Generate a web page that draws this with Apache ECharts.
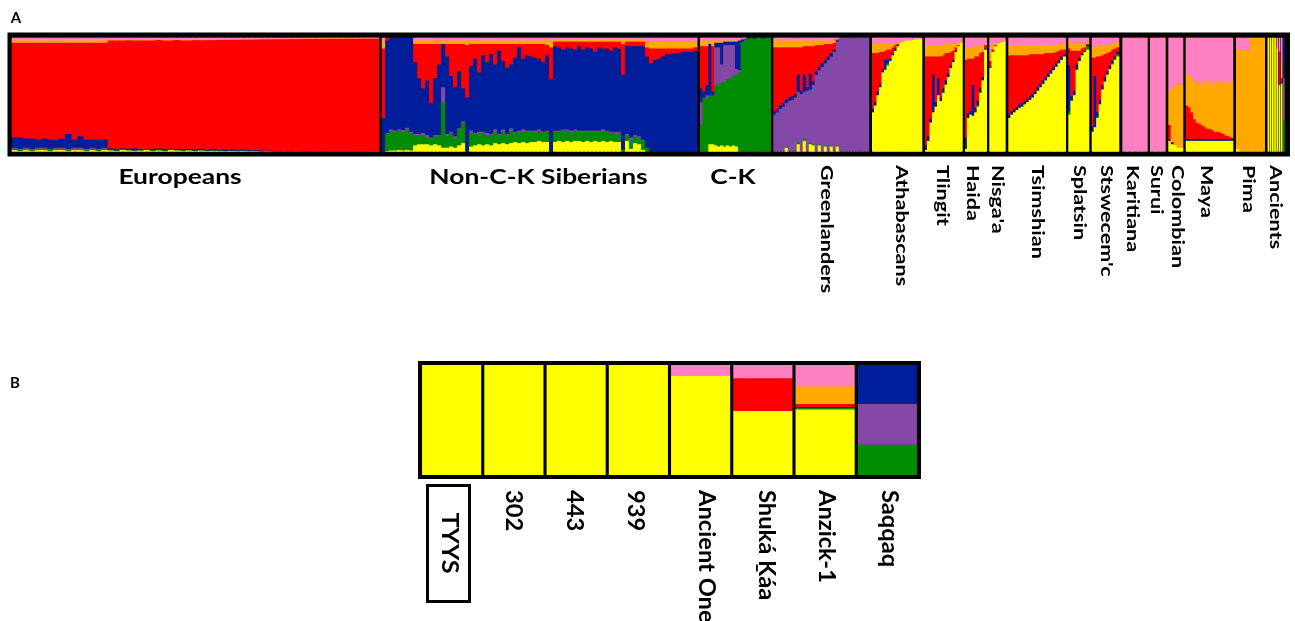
<!DOCTYPE html>
<html>
<head>
<meta charset="utf-8">
<script src="https://cdn.jsdelivr.net/npm/echarts@6/dist/echarts.min.js"></script>
<style>
  html, body { margin: 0; padding: 0; background: #fff; }
  #chart { width: 1295px; height: 621px; }
</style>
</head>
<body>
<div id="chart"></div>
<script>
// Ancestry components, stacked bottom to top in this order
const components = ['yellow', 'green', 'purple', 'blue', 'red', 'orange', 'pink'];
const componentColors = ['#FFFF00', '#008C00', '#8448A6', '#001E9A', '#FF0000', '#FFA800', '#FF80C0'];

// Each row is one individual: [yellow, green, purple, blue, red, orange, pink] in %
const europeans = [
  [2,1,1,9,83,2,2], [1,1,1,10,83,2,2], [2,1,1,8,84,2,2], [1,1,1,9,84,2,2],
  [2,1,1,7,85,2,2], [2,1,1,8,84,2,2], [1,1,1,8,85,2,2], [2,1,1,7,85,2,2],
  [2,1,1,8,84,2,2], [1,1,1,13,80,2,2], [2,1,1,7,85,2,2], [2,1,1,10,82,2,2],
  [1,1,1,8,85,2,2], [2,1,1,7,85,2,2], [1,1,1,8,85,2,2], [2,1,1,7,85,2,2],
  [1.5,0.5,0.3,1.2,94.5,1,1], [1,0.5,0,1,95.5,1,1], [2,0.5,0,0.8,94.7,1,1],
  [1.5,0.7,0,1,95,0.8,1], [1,0.5,0.3,1.5,94.7,1,1], [1.5,0.3,0,1,95.2,1,1],
  [2,0.5,0,0.5,95,1.2,0.8], [1,0.8,0,1,95.2,1,1], [1.5,0.5,0.2,1,95.3,0.8,0.7],
  [1,0.5,0,1.2,95.3,1,1], [2,0.3,0,0.7,95,1,1], [1.5,0.5,0,1,95.5,0.8,0.7],
  [1,0.7,0.2,1,95.1,1,1], [1.5,0.5,0,0.8,95.2,1,1], [1,0.5,0,1,95.8,0.9,0.8],
  [1.5,0.3,0,1.2,95.2,1,0.8], [1,0.5,0,0.8,96,0.9,0.8], [1.2,0.5,0,1,95.6,0.9,0.8],
  [1,0.6,0,0.7,96.2,0.8,0.7], [0.8,0.5,0,1,96.2,0.8,0.7], [1,0.4,0,0.8,96.3,0.8,0.7],
  [0.8,0.5,0,0.7,96.6,0.7,0.7], [1,0.5,0,0.8,96.4,0.7,0.6], [0.7,0.4,0,0.6,97,0.7,0.6],
  [0.8,0.5,0,0.7,96.8,0.6,0.6], [0.5,0.4,0,0.5,97.6,0.5,0.5], [0.6,0.3,0,0.4,97.7,0.5,0.5],
  [0.5,0.3,0,0.5,97.7,0.5,0.5], [0.4,0.3,0,0.4,98,0.5,0.4], [0.5,0.2,0,0.4,98,0.5,0.4],
  [0.4,0.3,0,0.3,98.2,0.4,0.4], [0.5,0.2,0,0.3,98.2,0.4,0.4], [0.3,0.2,0,0.3,98.5,0.4,0.3],
  [0.4,0.2,0,0.3,98.4,0.4,0.3], [0.3,0.1,0,0.3,98.7,0.3,0.3], [0.3,0.2,0,0.2,98.7,0.3,0.3],
  [0.3,0.1,0,0.3,98.8,0.3,0.2], [0.2,0.1,0,0.2,99,0.3,0.2], [0.3,0.1,0,0.2,98.9,0.3,0.2],
  [0.2,0.1,0,0.2,99.1,0.2,0.2], [0.2,0.1,0,0.2,99.1,0.2,0.2], [0.2,0,0,0.2,99.2,0.2,0.2],
  [0.1,0.1,0,0.2,99.3,0.2,0.1], [0.2,0,0,0.1,99.4,0.2,0.1], [0.1,0,0,0.1,99.5,0.2,0.1]
];

const siberians = [
  [0,0,0,30,61,6.5,2.5], [1,15,1,81,2,0,0], [1.5,17,1.5,80,0,0,0], [1.5,16,1.5,81,0,0,0],
  [2,17,1,80,0,0,0], [1.5,16,2,80.5,0,0,0], [2,18,1.5,78.5,0,0,0], [1.5,15,1.5,82,0,0,0],
  [6,9,1,63,16,3,2], [7,8,1,49,30,3,2], [7,8,2,39,39,3,2], [7,6,2,48,32,3,2],
  [6,6,1,30,52,3,2], [7,7,1,50,30,3,2], [6,8,1,62,18,3,2], [4,40,13,38,0,3,2],
  [4,10,2,68,11,3,2], [5,12,1,49,28,3,2], [4,8,2,43,38,3,2], [6,14,1,50,24,3,2],
  [8,18,1,29,39,3,2], [0,0,0,48,46,4,2], [5,12,2,57,19,3,2], [6,10,1,65,13,3,2],
  [7,9,2,52,25,3,2], [6,11,1,67,10,3,2], [7,8,2,62,16,3,2], [6,9,1,70,9,3,2],
  [8,10,2,57,18,3,2], [7,8,1,73,6,3,2], [8,10,2,60,15,3,2], [7,8,1,58,21,3,2],
  [8,11,2,56,18,3,2], [9,8,1,65,12,3,2], [8,10,1,73,3,3,2], [9,9,2,62,13,3,2],
  [8,10,1,66,10,3,2], [9,9,1,65,11,3,2], [9,8,2,64,12,3,2], [10,9,1,62,13,3,2],
  [9,8,1,61,16,3,2], [9,9,1,66,9,4,2], [0,0,0,64,28,6,2], [9,9,1,74,4,2,1],
  [10,8,1,73,5,2,1], [9,10,1,70,7,2,1], [10,9,1,72,5,2,1], [9,8,2,72,6,2,1],
  [10,9,1,70,7,2,1], [10,8,1,74,4,2,1], [9,9,1,71,7,2,1], [10,8,1,73,5,2,1],
  [9,9,1,72,6,2,1], [10,8,1,69,9,2,1], [9,9,1,73,5,2,1], [10,8,2,71,6,2,1],
  [9,9,1,72,6,2,1], [10,7,1,71,8,2,1], [9,8,1,74,5,2,1], [9,8,1,73,6,2,1],
  [0,2,0,66,27,4,1], [10,5,1,77,4,2,1], [3,7,3,80,4,2,1], [8,6,1,78,4,2,1],
  [7,6,1,79,4,2,1], [2,8,1,82,4,2,1], [0,4,0,80,8,5,3], [0,0,0,78,13,6,3],
  [0,0,0,81,10,6,3], [0,0,0,82,9,6,3], [0,0,0,84,7,6,3], [0,0,0,86,5,6,3],
  [0,0,0,86,5,6,3], [0,0,0,87,4,6,3], [0,0,0,87,4,6,3], [0,0,0,88,3,6,3],
  [0,0,0,88,3,6,3], [0,0,0,88,3,6,3], [0,0,0,89,3,5,3]
];

const chukchiKoryak = [
  [0,24,20,12,37,5,2], [0,48,0,5,40,5,2], [0,47,3,9,34,5,2], [7,43,0,45,0,3,2],
  [7,43,0,3,40,5,2], [6,53,33,4,0,2,2], [5,55,32,4,0,2,2], [6,55,16,19,0,2,2],
  [5,57,32,3,0,1,2], [6,58,30,3,0,1,2], [5,60,29,3,0,1,2], [6,61,27,3,0,1,2],
  [5,63,5,24,0,1,2], [0,70,2,26,0,0,2], [0,97,0,2,0,0,1], [0,99,0,0.5,0,0,0.5],
  [0,99.5,0,0.5,0,0,0], [0,100,0,0,0,0,0], [0,99.5,0,0.5,0,0,0], [0,100,0,0,0,0,0],
  [0,100,0,0,0,0,0], [0,99.5,0,0.5,0,0,0], [0,100,0,0,0,0,0], [0,100,0,0,0,0,0]
];

const greenlanders = [
  [0,0,33,3,56,6,2], [0,0,35,3,54,6,2], [0,0,38,3,51,6,2], [0,0,40,3,49,6,2],
  [4,1,38,3,46,6,2], [0,0,45,3,44,6,2], [0,0,46,3,43,6,2], [0,0,48,3,41,6,2],
  [7,2,44,15,24,6,2], [0,0,51,3,38,6,2], [10,2,41,15,25,5,2], [0,0,54,3,36,5,2],
  [7,1,47,14,24,5,2], [6,1,52,3,31,5,2], [0,0,68,3,23,4,2], [6,1,65,3,19,4,2],
  [0,0,75,3,16,4,2], [5,1,72,3,14,3,2], [0,0,81,3,11,3,2], [5,1,78,3,8,3,2],
  [0,0,88,2,6,2,2], [5,1,91,1,1,0,1], [0,0,100,0,0,0,0], [0,0,100,0,0,0,0],
  [0,0,100,0,0,0,0], [0,0,100,0,0,0,0], [0,0,100,0,0,0,0], [0,0,100,0,0,0,0],
  [0,0,100,0,0,0,0], [0,0,100,0,0,0,0], [0,0,100,0,0,0,0], [0,0,100,0,0,0,0]
];

const athabascans = [
  [35,0,0,3,49,8,5], [41,0,0,3,43,8,5], [50,0,0,3,34,8,5], [57,0,0,3,28,7,5],
  [70,0,0,3,15,7,5], [72,1,0,8,8,6,5], [76,2,0,3,9,5,5], [80,0,0,2,8,5,5],
  [85,0,0,2,5,4,4], [89,0,0,2,3,2,4], [93,0,0,1,1,1,4], [96,0,0,0,0,1,3],
  [97,0,0,0,0,0,3], [97.5,0,0,0,0,0,2.5], [98,0,0,0,0,0,2], [98,0,0,0,0,0,2],
  [98.5,0,0,0,0,0,1.5], [99,0,0,0,0,0,1], [99,0,0,0,0,0,1], [99.5,0,0,0,0,0,0.5]
];

const tlingit = [
  [2,0,0,4,78,10,6], [10,0,0,4,70,10,6], [26,0,0,3,55,10,6], [35,0,0,33,16,10,6],
  [40,0,0,4,40,10,6], [50,0,0,15,19,10,6], [45,0,0,3,36,10,6], [52,1,0,3,29,9,6],
  [59,1,0,3,24,8,5], [66,0,0,3,18,8,5], [74,0,0,2,12,7,5], [79,0,0,2,8,6,5],
  [88,0,0,1,3,4,4], [93,0,0,0,1,2,4], [96,0,0,0,0,1,3]
];

const haida = [
  [3,0,0,10,68,10,9], [30,0,0,4,48,10,8], [33,0,0,3,46,10,8], [32,0,0,27,23,10,8],
  [35,0,0,4,45,9,7], [40,1,0,4,39,9,7], [52,1,0,3,31,7,6], [63,0,0,3,22,6,6],
  [90,0,0,1,3,2,4]
];

const nisgaa = [
  [74,0,0,1,5,8,12], [88,0,0,0,2,4,6], [93,0,0,0,1,2,4], [95,0,0,0,0,1,4],
  [96,0,0,0,0,1,3], [97,0,0,0,0,0,3]
];

const tsimshian = [
  [30,0,0,3,52,9,6], [33,0,0,3,49,9,6], [35,0,0,3,47,9,6], [37,0,0,3,45,9,6],
  [39,0,0,3,43,9,6], [40,0,0,3,42,9,6], [42,0,0,3,40,9,6], [44,0,0,3,38,9,6],
  [46,0,0,3,37,8,6], [48,0,0,3,35,8,6], [51,0,0,3,32,8,6], [54,0,0,3,29,8,6],
  [57,0,0,3,26,8,6], [60,0,0,3,23,8,6], [63,0,0,3,21,7,6], [66,0,0,3,18,7,6],
  [69,0,0,3,15,7,6], [72,0,0,3,12,7,6], [75,0,0,3,10,6,6], [78,0,0,3,8,6,5],
  [81,0,0,3,6,5,5], [84,0,0,2,4,5,5]
];

const splatsin = [
  [33,3,0,40,15,6,3], [45,1,0,3,40,7,4], [50,0,0,4,35,7,4], [72,1,0,4,12,7,4],
  [80,0,0,3,6,7,4], [85,0,0,2,4,5,4], [88,0,0,1,3,4,4], [90,3,0,1,1,2,3]
];

const stswecemc = [
  [18,0,0,5,60,9,8], [22,0,0,45,16,9,8], [30,1,0,4,49,9,7], [42,0,0,4,38,9,7],
  [55,0,0,4,26,8,7], [62,0,0,4,20,8,6], [68,0,0,3,16,7,6], [73,0,0,3,12,6,6],
  [77,1,0,3,9,5,5], [81,1,0,2,7,4,5], [84,2,0,2,4,4,4]
];

const karitiana = [
  [0,0,0,0,0,0,100], [0,0,0,0,0,0,100], [0,0,0,0,0,0,100], [0,0,0,0,0,0,100], [0,0,0,0,0,0,100]
];

const surui = [
  [0,0,0,0,0,0,100], [0,0,0,0,0,0,100], [0,0,0,0,0,0,100]
];

const colombian = [
  [10,0,0,1,13,30,46], [7,0,0,1,1,47,44], [6,0,0,0,0,52,42], [4,0,0,0,0,56,40], [4,0,0,0,0,54,42]
];

const maya = [
  [10,0,0,1.5,29.5,28,31], [10,0,0,1.5,28,28.5,32], [10,0,0,1.5,23.5,31,34],
  [10,0,0,1.5,17.5,33,38], [10,0,0,1.5,14.5,34,40], [10,0,0,1.5,13.5,38,37],
  [10,0,0,1.5,12,35.5,41], [10,0,0,1.5,10.5,40,38], [10,0,0,1.5,9,39.5,40],
  [10,0,0,1.5,9,42.5,37], [10,0,0,1.5,7.5,40,41], [10,0,0,1.5,6,44.5,38],
  [10,0,0,1.5,6.5,43,39], [10,0,0,1.5,5.5,46,37], [10,0,0,1.5,4.5,44,40],
  [10,0,0,1.5,3,47.5,38], [10,0,0,1.5,2.5,47,39], [10,0,0,1.5,1.5,49,38]
];

const pima = [
  [3,0,0,0,0,87,10], [0,0,0,0,0,90,10], [0,0,0,0,0,90,10], [0,0,0,0,0,89,11],
  [0,0,0,0,0,100,0], [0,0,0,0,0,100,0], [0,0,0,0,0,100,0], [0,0,0,0,0,100,0]
];

// Ancient genomes (shown as a group in A and individually in B)
const ancientNames = ['TYYS', '302', '443', '939', 'Ancient One', 'Shuká Ḵáa', 'Anzick-1', 'Saqqaq'];
const ancients = [
  [100,0,0,0,0,0,0], [100,0,0,0,0,0,0], [100,0,0,0,0,0,0], [100,0,0,0,0,0,0],
  [90.5,0,0,0,0,1,8.5], [58.7,0,0,0,29.7,0,11.6], [60,1.5,0,0.5,3,16,19], [0,28,37,35,0,0,0]
];

const populationNames = ['Europeans', 'Non-C-K Siberians', 'C-K', 'Greenlanders', 'Athabascans',
  'Tlingit', 'Haida', "Nisga'a", 'Tsimshian', 'Splatsin', "Stswecem'c", 'Karitiana', 'Surui',
  'Colombian', 'Maya', 'Pima', 'Ancients'];
const populationRows = [europeans, siberians, chukchiKoryak, greenlanders, athabascans, tlingit,
  haida, nisgaa, tsimshian, splatsin, stswecemc, karitiana, surui, colombian, maya, pima, ancients];

// ---- layout (pixels) ----
const frameA = { x: 7.5, y: 32.5, w: 1282.5, h: 124 };
const innerA = { top: 37.7, bottom: 151.7 };
const columnSpansA = [[11.7,379.3],[381.7,697.5],[700,771],[773.3,869.3],[872,922.3],[925,962.7],
  [965,987],[989.3,1005.7],[1008.3,1066],[1068.3,1089.3],[1091.7,1119.3],[1122.3,1147.7],
  [1150,1165.7],[1168.3,1183.3],[1185.7,1233.3],[1236,1265],[1267.3,1285]];
const flatLabelX = [180, 538.5, 733];
const flatLabelY = 178;
const uprightLabelX = [826, 901, 942.5, 972.5, 997, 1037, 1079, 1106, 1132, 1156, 1177, 1206, 1248, 1275];
const uprightLabelTop = 165;

const frameB = { x: 418, y: 361, w: 503, h: 118 };
const innerB = { left: 420.5, right: 918.5, top: 365, bottom: 475 };
const labelBX = [449, 513, 574, 635, 706, 766, 826, 889];
const labelBTop = 490;

const grids = [], xAxes = [], yAxes = [], series = [];

// One grid per group; each individual is a column of stacked rectangles placed
// with the grid's own category / value scales. Touching columns overlap by a
// fraction of a pixel so no seam shows between them.
const SEAM = 0.55;
function addStack(rows, left, right, top, bottom, gapFrac) {
  const gi = grids.length;
  const n = rows.length;
  grids.push({ left: left, top: top, width: right - left, height: bottom - top, show: false });
  xAxes.push({ type: 'category', gridIndex: gi, data: rows.map((r, i) => String(i)), show: false });
  yAxes.push({ type: 'value', gridIndex: gi, min: 0, max: 100, show: false });
  const data = rows.map((r, i) => {
    const total = r.reduce((a, b) => a + b, 0);
    return [i].concat(r.map(v => v / total * 100));
  });
  series.push({
    type: 'custom', xAxisIndex: gi, yAxisIndex: gi, z: 3, silent: true, clip: false,
    encode: { x: 0, y: 1 },
    data: data,
    renderItem: function (params, api) {
      const i = api.value(0);
      const band = api.size([1, 0])[0];
      const cx = api.coord([i, 0])[0];
      const solid = gapFrac === 0;
      const padL = solid && i > 0 ? SEAM : 0;
      const padR = solid && i < n - 1 ? SEAM : 0;
      const inner = band * (1 - gapFrac);
      const x = cx - inner / 2 - padL;
      const width = inner + padL + padR;
      let acc = 0;
      const children = [];
      for (let k = 0; k < components.length; k++) {
        const v = api.value(k + 1);
        if (!(v > 0)) continue;
        const yBottom = api.coord([i, acc])[1];
        const padB = acc > 0 ? SEAM : 0;
        acc += v;
        const yTop = api.coord([i, acc])[1];
        children.push({
          type: 'rect',
          shape: { x: x, y: yTop, width: width, height: yBottom - yTop + padB },
          style: { fill: componentColors[k] }
        });
      }
      return { type: 'group', children: children };
    }
  });
}

populationRows.forEach((rows, i) => {
  const span = columnSpansA[i];
  addStack(rows, span[0], span[1], innerA.top, innerA.bottom, rows === ancients ? 0.22 : 0);
});
addStack(ancients, innerB.left, innerB.right, innerB.top, innerB.bottom, 0.05);

const labelFont = 'Lato, "Open Sans", sans-serif';
const stretchA = 1.32;
const stretchUpright = 1.27;
const graphics = [
  { type: 'rect', z: 1, shape: { x: frameA.x, y: frameA.y, width: frameA.w, height: frameA.h }, style: { fill: '#000' } },
  { type: 'rect', z: 1, shape: { x: frameB.x, y: frameB.y, width: frameB.w, height: frameB.h }, style: { fill: '#000' } },
  { type: 'text', z: 10, x: 16, y: 18, style: { text: 'A', font: 'bold 15px ' + labelFont, fill: '#000', textAlign: 'center', textVerticalAlign: 'middle' } },
  { type: 'text', z: 10, x: 15, y: 383, style: { text: 'B', font: 'bold 15px ' + labelFont, fill: '#000', textAlign: 'center', textVerticalAlign: 'middle' } }
];

flatLabelX.forEach((x, i) => {
  graphics.push({ type: 'text', z: 10, x: x, y: flatLabelY, scaleX: stretchA,
    style: { text: populationNames[i], font: 'bold 20px ' + labelFont, fill: '#000', textAlign: 'center', textVerticalAlign: 'middle' } });
});
uprightLabelX.forEach((x, j) => {
  graphics.push({ type: 'text', z: 10, x: x, y: uprightLabelTop, rotation: -Math.PI / 2, scaleX: stretchUpright,
    style: { text: populationNames[j + 3], font: 'bold 17px ' + labelFont, fill: '#000', textAlign: 'left', textVerticalAlign: 'middle' } });
});
ancientNames.forEach((name, i) => {
  const boxed = i === 0;
  graphics.push({ type: 'text', z: 10, x: labelBX[i], y: boxed ? 543 : labelBTop, rotation: -Math.PI / 2,
    scaleX: boxed ? 1.1 : 1.03,
    style: { text: name, font: 'bold 23px ' + labelFont, fill: '#000', textAlign: boxed ? 'center' : 'left', textVerticalAlign: 'middle' } });
});
graphics.push({ type: 'rect', z: 10, shape: { x: 427.5, y: 485.5, width: 42, height: 116 },
  style: { fill: 'none', stroke: '#000', lineWidth: 3 } });

const chart = echarts.init(document.getElementById('chart'), null, { renderer: 'canvas' });
chart.setOption({
  backgroundColor: '#fff',
  animation: false,
  grid: grids,
  xAxis: xAxes,
  yAxis: yAxes,
  series: series,
  graphic: { elements: graphics }
});
</script>
</body>
</html>
